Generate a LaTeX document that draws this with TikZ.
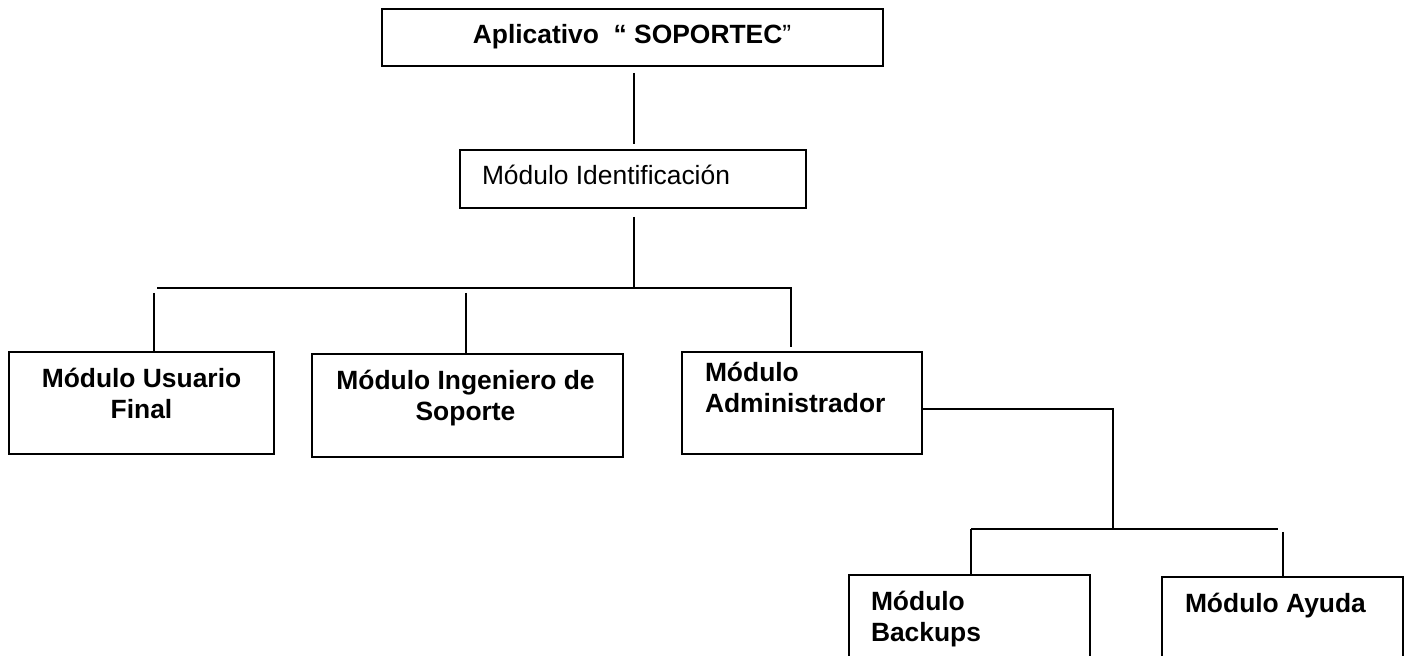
\documentclass[tikz,border=0pt]{standalone}
\usepackage{fontspec}
\setmainfont{Liberation Sans}
\newcommand\twoC[2]{\vtop{\halign{\hfil##\hfil\cr#1\cr#2\cr}}}
\newcommand\twoL[2]{\vtop{\halign{##\hfil\cr#1\cr#2\cr}}}
\begin{document}
\begin{tikzpicture}[x=0.5pt,y=-0.5pt,line width=1.1pt,
  box/.style={draw,inner sep=0pt,outer sep=0pt},
  txt/.style={inner sep=0pt,outer sep=0pt,font=\fontsize{13.2}{15.25}\selectfont},
  btxt/.style={txt,font=\fontsize{13.2}{15.25}\selectfont\bfseries}]
\useasboundingbox (0,0) rectangle (1405,656);
\clip (0,0) rectangle (1405,656);
% boxes
\node[box,minimum width=250.5pt,minimum height=28.5pt] (top) at (632.5,37.5) {};
\node[box,minimum width=173pt,minimum height=29pt] (ident) at (633,179) {};
\node[box,minimum width=132.5pt,minimum height=51pt] (b1) at (141.5,403) {};
\node[box,minimum width=155.5pt,minimum height=51.5pt] (b2) at (467.5,405.5) {};
\node[box,minimum width=120pt,minimum height=51pt] (b3) at (802,403) {};
\node[box,minimum width=120.5pt,minimum height=62.5pt] (b4) at (969.5,637.5) {};
\node[box,minimum width=120.5pt,minimum height=62pt] (b5) at (1282.5,639) {};
% texts
\node[btxt,anchor=base] (ttop) at (632,44) {Aplicativo\ \ “ SOPORTEC{\mdseries ”}};
\node[txt,anchor=base west] (tident) at (482,185) {Módulo Identificación};
\node[btxt,anchor=base] (t1) at (141.5,388) {\twoC{Módulo Usuario}{Final}};
\node[btxt,anchor=base] (t2) at (465.5,390) {\twoC{Módulo Ingeniero de}{Soporte}};
\node[btxt,anchor=base west] (t3) at (705,382) {\twoL{Módulo}{Administrador}};
\node[btxt,anchor=base west] (t4) at (871,611) {\twoL{Módulo}{Backups}};
\node[btxt,anchor=base west] (t5) at (1185,613) {Módulo Ayuda};
% connector points
\coordinate (busM) at (634,288);
\coordinate (busL) at (157,288);
\coordinate (busR) at (791,288);
\coordinate (d1) at (154,293);
\coordinate (d2) at (466,293);
\coordinate (admR) at (1113,409);
\coordinate (sub) at (1113,529);
\coordinate (subL) at (971,529);
\coordinate (subR) at (1278,529);
\coordinate (d5) at (1283,532);
% connectors
\draw[shorten <=3.5pt,shorten >=3pt] (top.south -| busM) -- (ident.north -| busM);
\draw[shorten <=4.5pt] (ident.south -| busM) -- (busM);
\draw[shorten >=2.5pt] (busL) -- (busR) -- (b3.north -| busR);
\draw (d1) -- (b1.north -| d1);
\draw (d2) -- (b2.north -| d2);
\draw (b3.east |- admR) -- (admR) -- (sub);
\draw (subL) -- (subR);
\draw (subL) -- (b4.north -| subL);
\draw (d5) -- (b5.north -| d5);
\end{tikzpicture}
\end{document}
